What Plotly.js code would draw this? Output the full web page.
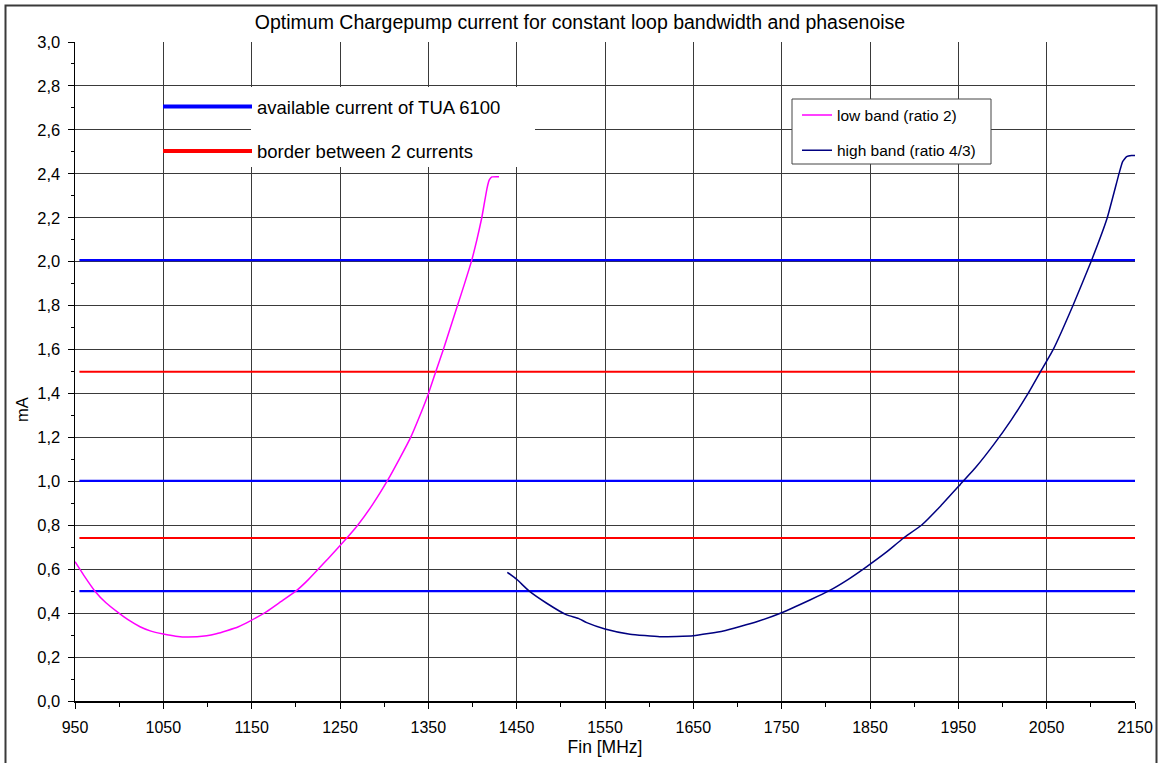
<!DOCTYPE html>
<html>
<head>
<meta charset="utf-8">
<script src="https://cdn.plot.ly/plotly-3.0.1.min.js"></script>
<style>html,body{margin:0;padding:0;background:#fff;}#chart{width:1160px;height:763px;}</style>
</head>
<body>
<div id="chart"></div>
<script>
// ---- data ----
const lowFin = [950, 960, 972.6, 985, 999, 1010, 1023.6, 1036, 1050, 1064, 1078, 1099, 1110, 1121.7, 1135, 1148, 1167, 1183, 1200, 1213, 1225.5, 1237, 1258, 1270, 1287, 1304, 1317, 1330, 1340, 1350, 1358.5, 1367, 1375, 1383, 1391, 1398.7, 1405, 1410.5, 1414, 1416.5, 1419, 1422, 1430];
const lowI   = [0.634, 0.572, 0.50, 0.447, 0.402, 0.370, 0.338, 0.318, 0.305, 0.295, 0.291, 0.297, 0.306, 0.320, 0.338, 0.364, 0.407, 0.452, 0.50, 0.548, 0.601, 0.650, 0.743, 0.80, 0.895, 1.005, 1.10, 1.20, 1.295, 1.398, 1.50, 1.60, 1.70, 1.80, 1.90, 2.00, 2.10, 2.20, 2.28, 2.335, 2.372, 2.386, 2.387];

const highFin = [1439.4, 1450, 1464.3, 1484, 1506.6, 1519.8, 1529.3, 1550, 1578.3, 1612, 1650, 1684, 1721.7, 1750, 1782, 1802.8, 1825, 1846, 1867, 1887.7, 1908.5, 1930, 1952, 1970, 1990, 2010, 2029, 2043, 2057.5, 2080, 2101, 2118.6, 2132, 2136, 2140.5, 2146, 2150];
const highI   = [0.586, 0.554, 0.50, 0.445, 0.392, 0.376, 0.357, 0.328, 0.304, 0.293, 0.297, 0.319, 0.361, 0.402, 0.46, 0.50, 0.553, 0.611, 0.673, 0.741, 0.801, 0.888, 0.985, 1.065, 1.167, 1.28, 1.40, 1.499, 1.601, 1.803, 2.008, 2.20, 2.402, 2.455, 2.478, 2.483, 2.483];

// horizontal reference levels (start / end of each line)
const levelFin = [955, 2150];
const avail2_0 = [2.007, 2.007];
const avail1_0 = [1.002, 1.002];
const avail0_5 = [0.500, 0.500];
const border1_5 = [1.499, 1.499];
const border0_74 = [0.742, 0.742];

const chartTitle = 'Optimum Chargepump current for constant loop bandwidth and phasenoise';
const xTitle = 'Fin [MHz]';
const yTitle = 'mA';
const nameLow = 'low band (ratio 2)';
const nameHigh = 'high band (ratio 4/3)';
const nameAvail = 'available current of TUA 6100';
const nameBorder = 'border between 2 currents';

const FONT = 'Liberation Sans, Arial, sans-serif';
const BLUE = '#0000ff', RED = '#ff0000', MAG = '#ff00ff', NAVY = '#000080';

function level(y, color, width) {
  return {x: levelFin, y: y, type: 'scatter', mode: 'lines',
          line: {color: color, width: width}, showlegend: false, hoverinfo: 'skip'};
}
function key(color, name, group) {
  return {x: [null], y: [null], type: 'scatter', mode: 'lines', name: name,
          line: {color: color, width: 4}, legend: 'legend2', legendgroup: group, showlegend: true};
}

const traces = [
  level(avail2_0, BLUE, 2.3),
  level(avail1_0, BLUE, 2.3),
  level(avail0_5, BLUE, 2.3),
  level(border1_5, RED, 2),
  level(border0_74, RED, 2),
  key(BLUE, nameAvail, 'avail'),
  key(RED, nameBorder, 'border'),
  {x: lowFin, y: lowI, type: 'scatter', mode: 'lines', name: nameLow,
   line: {color: MAG, width: 1.5, shape: 'spline', smoothing: 0.4}, legend: 'legend', legendgroup: 'low'},
  {x: highFin, y: highI, type: 'scatter', mode: 'lines', name: nameHigh,
   line: {color: NAVY, width: 1.5, shape: 'spline', smoothing: 0.4}, legend: 'legend', legendgroup: 'high'}
];

const L = 75, R = 25, T = 42, B = 62, W = 1160, H = 763;
const pw = W - L - R, ph = H - T - B;
const px = v => (v - L) / pw;            // pixel -> paper x
const py = v => (H - B - v) / ph;        // pixel -> paper y

const layout = {
  width: W, height: H,
  margin: {l: L, r: R, t: T, b: B},
  paper_bgcolor: '#fff', plot_bgcolor: '#fff',
  separators: ',.',
  font: {family: FONT, size: 15, color: '#000'},
  title: {text: chartTitle, font: {family: FONT, size: 19.5, color: '#000'},
          xref: 'container', x: 0.5, xanchor: 'center', y: 1 - 22 / H, yanchor: 'middle'},
  xaxis: {
    range: [950, 2150], tick0: 950, dtick: 100, tickformat: 'd',
    ticks: 'outside', ticklen: 6, tickwidth: 1, tickcolor: '#000',
    minor: {dtick: 50, tick0: 950, ticks: 'outside', ticklen: 4, tickcolor: '#000', showgrid: false},
    showgrid: true, gridcolor: '#3a3a3a', gridwidth: 1,
    showline: true, linecolor: '#000', linewidth: 1.5,
    zeroline: false, ticklabelstandoff: 5,
    tickfont: {family: FONT, size: 16, color: '#000'},
    title: {text: xTitle, font: {family: FONT, size: 17.5, color: '#000'}, standoff: 6}
  },
  yaxis: {
    range: [0, 3], tick0: 0, dtick: 0.2, tickformat: '.1f',
    ticks: 'outside', ticklen: 6, tickwidth: 1, tickcolor: '#000',
    minor: {dtick: 0.1, tick0: 0, ticks: 'outside', ticklen: 3, tickcolor: '#000', showgrid: false},
    showgrid: true, gridcolor: '#3a3a3a', gridwidth: 1,
    showline: true, linecolor: '#000', linewidth: 1.5,
    zeroline: false, ticklabelstandoff: 4,
    tickfont: {family: FONT, size: 16.5, color: '#000'}
  },
  showlegend: true,
  legend: {x: px(797), xanchor: 'left', y: py(98.5), yanchor: 'top',
           bgcolor: 'rgba(0,0,0,0)', borderwidth: 0, tracegroupgap: 12,
           font: {family: FONT, size: 15.5, color: '#000'}},
  legend2: {x: px(158), xanchor: 'left', y: py(88), yanchor: 'top',
            bgcolor: 'rgba(0,0,0,0)', borderwidth: 0, itemwidth: 89, tracegroupgap: 17.5,
            font: {family: FONT, size: 18.5, color: '#000'}},
  annotations: [
    {text: yTitle, xref: 'paper', yref: 'paper', x: px(22), y: py(410), showarrow: false,
     textangle: -90, xanchor: 'center', yanchor: 'middle', font: {family: FONT, size: 16.5, color: '#000'}}
  ],
  shapes: [
    // white box behind the top-left key texts
    {type: 'rect', xref: 'paper', yref: 'paper', x0: px(251), x1: px(535), y0: py(167), y1: py(87),
     fillcolor: '#fff', line: {width: 0}, layer: 'above'},
    // legend frame (top right)
    {type: 'rect', xref: 'paper', yref: 'paper', x0: px(792), x1: px(991), y0: py(164), y1: py(99),
     fillcolor: '#fff', line: {color: '#444', width: 1}, layer: 'above'},
    // outer chart frame
    {type: 'rect', xref: 'paper', yref: 'paper', x0: px(5.5), x1: px(1156.5), y0: py(775), y1: py(5.5),
     fillcolor: 'rgba(0,0,0,0)', line: {color: '#3a3a3a', width: 2}, layer: 'above'}
  ]
};

Plotly.newPlot('chart', traces, layout, {displayModeBar: false, staticPlot: true});
</script>
</body>
</html>
